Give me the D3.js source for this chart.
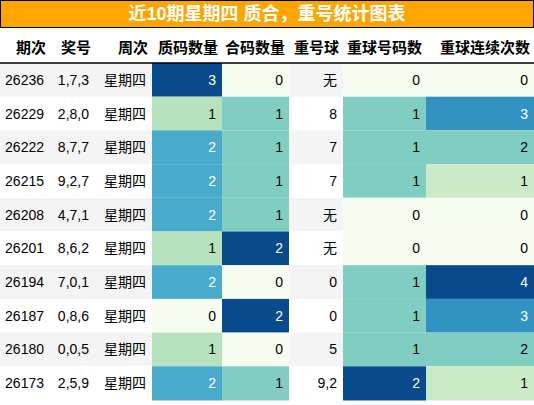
<!DOCTYPE html>
<html><head><meta charset="utf-8">
<script src="https://cdn.jsdelivr.net/npm/d3@7"></script>
<style>body{margin:0;background:#fff;font-family:"Liberation Sans","Noto Sans CJK SC",sans-serif;}</style>
</head><body>
<svg id="c" width="534" height="405"></svg>
<script>
const title = '近10期星期四 质合，重号统计图表';
const headers = ['期次','奖号','周次','质码数量','合码数量','重号球','重球号码数','重球连续次数'];
const periods = ['26236','26229','26222','26215','26208','26201','26194','26187','26180','26173'];
const numbers = ['1,7,3','2,8,0','8,7,7','9,2,7','4,7,1','8,6,2','7,0,1','0,8,6','0,0,5','2,5,9'];
const weekday = '星期四';
const primeCount = [3,1,2,2,2,1,2,0,1,2];
const compCount = [0,1,1,1,1,2,0,2,0,1];
const repeatBall = ['无','8','7','7','无','无','0','0','5','9,2'];
const repeatCount = [0,1,1,1,0,0,1,1,1,2];
const repeatStreak = [0,3,2,1,0,0,4,3,2,1];

const edges = [0,50,95,152,222,289,343,426,534];
const titleH = 28, headH = 35, rowH = 33.7;
const svg = d3.select('#c');

svg.append('rect').attr('x',0.5).attr('y',0.5).attr('width',533).attr('height',titleH-1)
  .attr('fill','#ffa500').attr('stroke','#000');
svg.append('text').attr('x',267).attr('y',20).attr('text-anchor','middle')
  .attr('fill','#fff').attr('font-size',18).attr('font-weight','bold').text(title);

headers.forEach((h,i)=>{
  svg.append('text').attr('x',edges[i+1]-4).attr('y',titleH+25).attr('text-anchor','end')
    .attr('font-size',15).attr('font-weight','bold').attr('fill','#000').text(h);
});

const y = d3.scaleBand().domain(periods).range([titleH+headH, titleH+headH+rowH*periods.length]);
const heat = {3:[primeCount,3],4:[compCount,2],6:[repeatCount,2],7:[repeatStreak,4]};

periods.forEach((p,r)=>{
  const row = [p,numbers[r],weekday,primeCount[r],compCount[r],repeatBall[r],repeatCount[r],repeatStreak[r]];
  const y0 = y(p);
  svg.append('rect').attr('x',0).attr('y',y0).attr('width',534).attr('height',y.bandwidth())
    .attr('fill', r%2===0 ? '#f4f4f4' : '#fff');
  row.forEach((v,c)=>{
    let fg = '#000';
    if (heat[c]) {
      const t = v / heat[c][1];
      svg.append('rect').attr('x',edges[c]).attr('y',y0).attr('width',edges[c+1]-edges[c])
        .attr('height',y.bandwidth()+0.5).attr('fill', d3.interpolateGnBu(t*0.97));
      if (t > 0.6) fg = '#fff';
    }
    svg.append('text').attr('x',edges[c+1]-6).attr('y',y0+y.bandwidth()/2+5)
      .attr('text-anchor','end').attr('font-size',14).attr('fill',fg).text(v);
  });
});
svg.append('line').attr('x1',0).attr('x2',534).attr('y1',titleH+headH).attr('y2',titleH+headH)
  .attr('stroke','#000').attr('stroke-width',1.5);
</script>
</body></html>
